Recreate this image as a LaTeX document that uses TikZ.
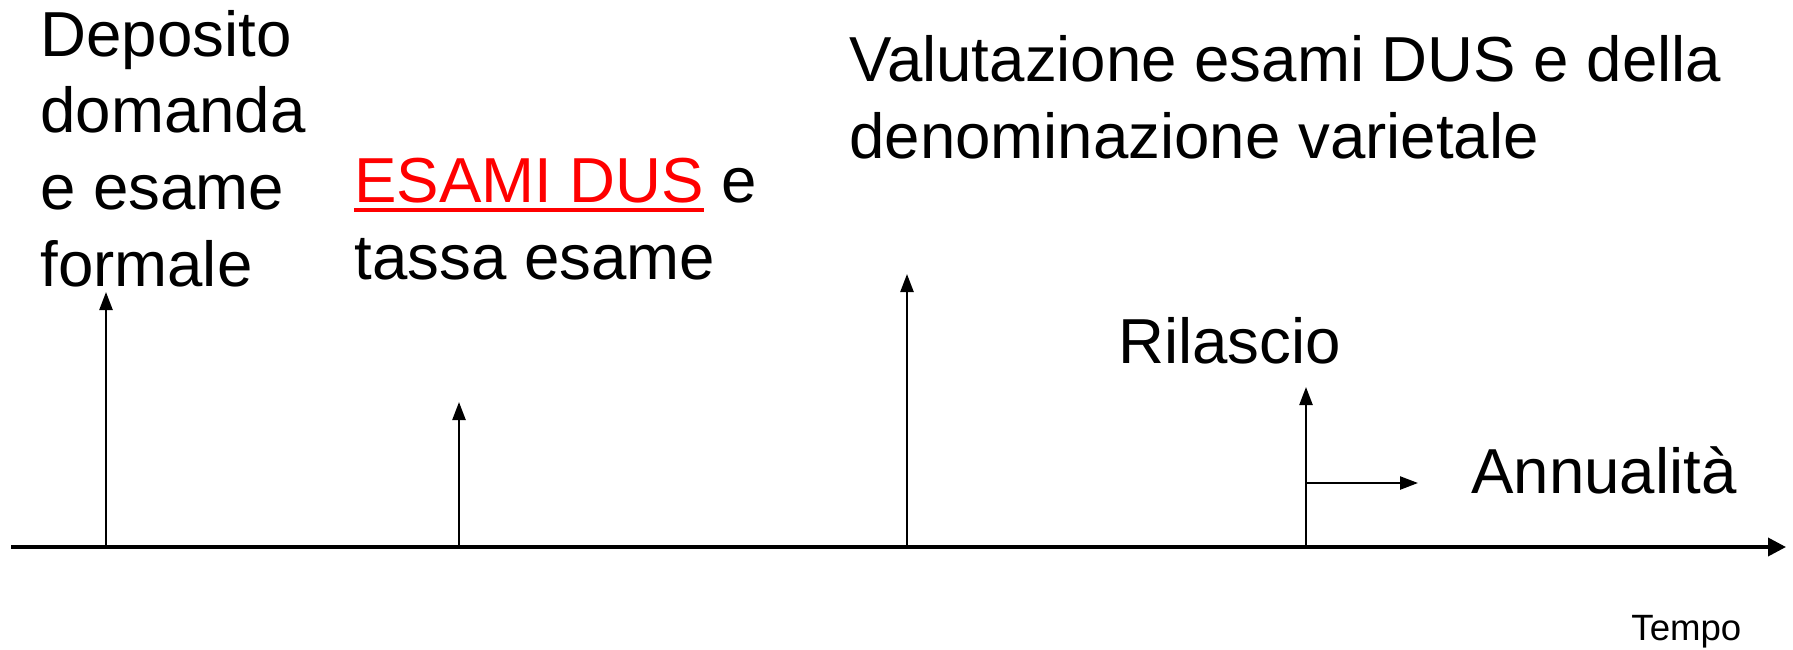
\documentclass[tikz,border=0pt]{standalone}
\usepackage{fontspec}
\setmainfont{Liberation Sans}
\usetikzlibrary{arrows.meta}
% underline drawn as a thicker rule in the current colour
\newcommand\thickunderline[1]{\setbox0\hbox{#1}\rlap{\rule[-5pt]{\wd0}{2pt}}\box0}
\begin{document}
\begin{tikzpicture}[x=0.5pt,y=-0.5pt,
  lbl/.style={anchor=base west, inner sep=0pt, align=left,
              font=\fontsize{31.8}{38.3}\selectfont},
  smalllbl/.style={anchor=base west, inner sep=0pt,
              font=\fontsize{18.3}{21}\selectfont},
  event/.style={line width=1.2pt, -{Triangle[length=9pt,width=6.5pt]}},
  timeaxis/.style={line width=1.8pt, -{Triangle[length=9pt,width=9pt]}}]
\useasboundingbox (0,0) rectangle (1793,649);

% time axis
\coordinate (t0) at (11,547);
\coordinate (tend) at (1786,547);
\draw[timeaxis] (t0) -- (tend);

% events on the axis
\coordinate (e1) at (106,547);  \coordinate (e1top) at (106,292);
\coordinate (e2) at (459,547);  \coordinate (e2top) at (459,402);
\coordinate (e3) at (907,547);  \coordinate (e3top) at (907,274);
\coordinate (e4) at (1306,547); \coordinate (e4top) at (1306,387);
\coordinate (a0) at (1306,483); \coordinate (a1) at (1418,483);

\draw[event] (e1) -- (e1top);
\draw[event] (e2) -- (e2top);
\draw[event] (e3) -- (e3top);
\draw[event] (e4) -- (e4top);
\draw[event] (a0) -- (a1);

% labels (base anchor of a multi-line node sits on its last line)
\node[lbl] (deposito) at (40,286) {Deposito\\domanda\\e esame\\formale};
\node[lbl] (dus) at (354,279) {\textcolor{red}{\thickunderline{ESAMI DUS}} e\\tassa esame};
\node[lbl] (valutazione) at (849,158) {Valutazione esami DUS e della\\denominazione varietale};
\node[lbl] (rilascio) at (1118,363) {Rilascio};
\node[lbl] (annualita) at (1471,493) {Annualità};
\node[smalllbl] (tempo) at (1631,640) {Tempo};
\end{tikzpicture}
\end{document}
